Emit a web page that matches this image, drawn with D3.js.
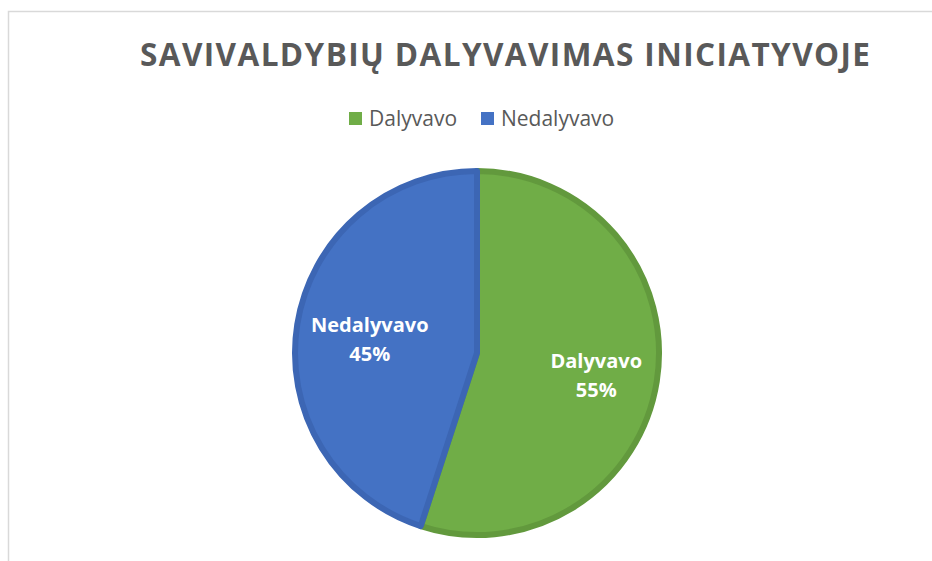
<!DOCTYPE html>
<html lang="lt">
<head>
<meta charset="UTF-8">
<title>Savivaldybių dalyvavimas iniciatyvoje</title>
<script src="https://d3js.org/d3.v7.min.js"></script>
<style>
    body { margin: 0; background: #fff; }
    svg { display: block; }
    text { font-family: "Open Sans", "Noto Sans", sans-serif; }
</style>
</head>
<body>
<svg width="932" height="561"></svg>
<script>
    // duomenys
    let categories = ["Dalyvavo", "Nedalyvavo"];
    let values = [55, 45];
    let colors = ["#70AD47", "#4472C4"];
    let borders = ["#62993D", "#3C66B4"];
    let title = "SAVIVALDYBIŲ DALYVAVIMAS INICIATYVOJE";

    let W = 932, H = 561;
    let svg = d3.select("svg");

    // chart frame (only top + left edges visible)
    svg.append("path")
        .attr("d", `M8.5,${H} L8.5,11.5 L${W},11.5`)
        .attr("fill", "none")
        .attr("stroke", "#d9d9d9")
        .attr("stroke-width", 1.5);

    // title
    let t = svg.append("text")
        .attr("x", 505)
        .attr("y", 66)
        .attr("text-anchor", "middle")
        .attr("font-size", 31.5)
        .attr("font-weight", "bold")
        .attr("fill", "#595959")
        .text(title);
    // stretch letters to the width in the picture
    let targetW = 730;
    let w0 = t.node().getComputedTextLength();
    let ls = (targetW - w0) / (title.length - 1);
    t.attr("letter-spacing", ls).attr("x", 505 + ls / 2);

    // legend
    let legend = svg.append("g").attr("transform", "translate(349,112)");
    let legX = [0, 132];
    let li = legend.selectAll("g").data(categories).enter().append("g")
        .attr("transform", (d, i) => `translate(${legX[i]},0)`);
    li.append("rect")
        .attr("width", 13).attr("height", 13)
        .attr("fill", (d, i) => colors[i]);
    li.append("text")
        .attr("x", 20).attr("y", 14)
        .attr("font-size", 21)
        .attr("fill", "#595959")
        .text(d => d);

    // pie
    let cx = 477, cy = 353, r = 182;
    let g = svg.append("g").attr("transform", `translate(${cx},${cy})`);

    let pie = d3.pie().sort(null).value(d => d.v);
    let data = pie(categories.map((c, i) => ({ c: c, v: values[i], i: i })));
    let arc = d3.arc().innerRadius(0).outerRadius(r);
    let labelArc = d3.arc().innerRadius(r * 0.63).outerRadius(r * 0.63);

    g.selectAll("path.slice").data(data).enter().append("path")
        .attr("class", "slice")
        .attr("d", arc)
        .attr("fill", d => colors[d.data.i])
        .attr("stroke", d => borders[d.data.i])
        .attr("stroke-width", 6)
        .attr("stroke-linejoin", "round");

    let totals = d3.sum(values);
    // labels sit a little right/below of the centroid like excel's best fit
    let lab = g.selectAll("text.lbl").data(data).enter().append("text")
        .attr("class", "lbl")
        .attr("transform", d => {
            let c = labelArc.centroid(d);
            return `translate(${c[0] + 6},${c[1] + 4})`;
        })
        .attr("text-anchor", "middle")
        .attr("font-size", 20)
        .attr("font-weight", "bold")
        .attr("fill", "#ffffff");
    lab.append("tspan").attr("x", 0).attr("y", -7).text(d => d.data.c);
    lab.append("tspan").attr("x", 0).attr("y", 22)
        .text(d => Math.round(d.data.v / totals * 100) + "%");
</script>
</body>
</html>
